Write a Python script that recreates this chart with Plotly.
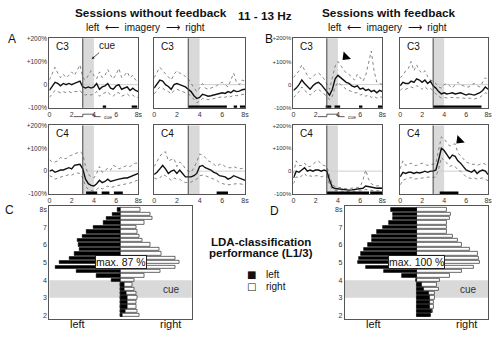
import plotly.graph_objects as go

# ---------------- DATA ----------------
TIME = [i * 0.25 for i in range(33)]          # 0 .. 8 s
CUE_START, CUE_END = 3.0, 4.0
X_TICKS = [0, 2, 4, 6, 8]
X_TICK_TEXT = ["0", "2", "4", "6", "8s"]
Y_TICKS = [-100, 0, 100, 200]
Y_TICK_TEXT = ["-100%", "0", "+100%", "+200%"]

# Sessions without feedback, left imagery, C3
A_L_C3_mean = [-25,-5,10,5,-5,5,0,5,0,5,10,15,-10,-15,-10,-15,-10,5,-20,-10,-5,5,-15,-20,-5,0,-20,-15,-10,-25,-15,-25,-30]
A_L_C3_up   = [20,50,75,50,30,45,30,40,55,40,60,85,30,20,40,60,40,25,55,30,40,65,40,25,45,70,30,40,55,30,40,20,15]
A_L_C3_lo   = [-55,-40,-25,-30,-35,-30,-35,-30,-35,-30,-30,-25,-40,-45,-40,-45,-40,-30,-50,-40,-35,-30,-45,-50,-35,-35,-50,-45,-40,-50,-45,-55,-55]
# without feedback, right imagery, C3
A_R_C3_mean = [-15,0,20,15,0,-8,-20,0,5,0,-5,-10,-20,-30,-48,-60,-55,-42,-45,-50,-48,-45,-42,-40,-35,-38,-30,-35,-25,-30,-28,-22,-20]
A_R_C3_up   = [30,55,75,60,45,35,20,45,60,50,45,35,25,5,-10,-30,-15,5,-15,-20,-15,-10,-5,5,10,0,-10,20,50,10,0,20,15]
A_R_C3_lo   = [-40,-25,-10,-15,-25,-30,-40,-25,-20,-25,-30,-35,-40,-50,-65,-78,-72,-60,-62,-65,-63,-60,-58,-57,-52,-55,-48,-52,-45,-48,-45,-42,-40]
# without feedback, left imagery, C4
A_L_C4_mean = [0,5,-5,0,5,5,10,15,10,25,28,30,10,-35,-55,-62,-65,-55,-40,-50,-45,-35,-45,-40,-38,-35,-32,-30,-30,-25,-20,-15,-10]
A_L_C4_up   = [50,40,40,45,60,55,55,65,70,75,80,85,75,20,-15,-25,-30,-10,20,-5,0,15,5,25,20,10,15,20,25,20,30,35,35]
A_L_C4_lo   = [-20,-25,-35,-30,-25,-22,-20,-15,-18,-10,-8,-10,-30,-65,-80,-85,-88,-80,-70,-78,-72,-65,-72,-68,-65,-62,-60,-58,-57,-52,-48,-42,-38]
# without feedback, right imagery, C4
A_R_C4_mean = [-15,-5,10,25,10,-10,0,5,-10,5,-10,-25,-25,-25,-20,-10,20,25,15,10,5,-5,-10,-20,-22,-25,-35,-30,-20,-25,-30,-35,-40]
A_R_C4_up   = [20,45,65,80,85,45,50,55,20,40,30,10,0,-5,15,40,75,70,60,45,40,30,20,30,30,20,15,15,20,15,10,12,15]
A_R_C4_lo   = [-30,-35,-30,-15,-20,-30,-40,-30,-35,-35,-45,-50,-50,-48,-40,-35,-20,-18,-20,-25,-30,-35,-40,-50,-55,-58,-60,-58,-55,-55,-55,-58,-60]
# Sessions with feedback, left imagery, C3
B_L_C3_mean = [-25,-15,0,20,5,-10,-20,-5,5,10,0,-15,-30,-45,-20,25,40,30,20,10,5,-5,-10,-5,-20,-15,-25,-20,-30,-25,-35,-25,-30]
B_L_C3_up   = [30,45,60,85,60,40,25,35,45,50,40,25,0,-20,30,80,100,80,65,50,45,30,20,45,30,15,40,100,145,60,10,5,0]
B_L_C3_lo   = [-55,-45,-30,-10,-25,-35,-45,-35,-25,-20,-30,-40,-50,-65,-50,-10,10,0,-10,-20,-25,-30,-35,-35,-45,-40,-50,-45,-55,-50,-58,-52,-55]
# with feedback, right imagery, C3
B_R_C3_mean = [-5,10,5,5,15,10,25,20,10,20,5,15,-5,-15,-30,-40,-35,-40,-38,-35,-40,-38,-35,-40,-45,-40,-42,-45,-40,-35,-25,-10,-20]
B_R_C3_up   = [30,40,60,70,100,60,85,60,50,60,35,20,15,5,-10,-15,0,5,-5,-15,0,10,0,-5,-10,-10,0,5,-5,-10,10,30,15]
B_R_C3_lo   = [-25,-15,-20,-15,-10,-15,-5,-10,-20,-10,-20,-15,-30,-40,-50,-58,-55,-58,-55,-55,-58,-55,-55,-58,-60,-58,-60,-62,-58,-55,-45,-35,-40]
# with feedback, left imagery, C4
B_L_C4_mean = [-30,0,-5,5,15,0,5,0,5,5,0,5,0,-40,-70,-76,-78,-80,-82,-83,-83,-82,-80,-80,-78,-75,-65,-68,-72,-74,-75,-74,-75]
B_L_C4_up   = [-10,45,25,25,35,20,20,30,40,45,30,25,20,-20,-60,-68,-70,-74,-76,-77,-76,-75,-73,-72,-68,-40,5,-35,-55,-62,-65,-63,-65]
B_L_C4_lo   = [-55,-25,-30,-20,-10,-25,-20,-25,-20,-20,-25,-20,-20,-60,-80,-85,-87,-88,-88,-89,-89,-88,-87,-87,-86,-84,-80,-82,-85,-86,-86,-86,-87]
# with feedback, right imagery, C4
B_R_C4_mean = [-25,-5,-10,-5,-5,-10,-5,-8,-5,0,-5,0,0,5,50,100,90,75,55,70,65,45,35,20,5,0,-5,5,-10,0,5,0,-15]
B_R_C4_up   = [10,45,25,30,35,25,25,30,35,30,25,30,30,35,100,150,140,125,110,115,120,80,65,55,40,35,30,30,25,30,35,30,20]
B_R_C4_lo   = [-60,-40,-35,-30,-28,-35,-35,-32,-30,-28,-28,-25,-28,-25,10,60,45,35,20,25,20,5,0,-15,-25,-30,-32,-30,-35,-32,-30,-35,-42]

# significant intervals (s)
SIG = {
    1: [(4.8, 5.1), (7.4, 7.9)],
    2: [(3.0, 6.4), (7.0, 7.3), (7.55, 8.0)],
    3: [(2.9, 3.4), (3.7, 4.2), (5.9, 6.2), (7.6, 8.0)],
    4: [(3.0, 7.4)],
    5: [(3.3, 4.3), (4.7, 5.4), (5.8, 6.6)],
    6: [(5.5, 6.5)],
    7: [(3.0, 6.8), (6.9, 8.0)],
    8: [(3.6, 5.3)],
}

# LDA classification performance (bar length, % of half width), 2 .. 8 s
LDA_TIME = [2 + i * 0.25 for i in range(25)]
C_left  = [-3,-7,-9,-9,-10,-8,-6,-6,13,34,62,92,86,72,65,58,59,60,54,48,38,24,20,11,4]
C_right = [26,24,22,22,24,22,19,17,19,33,56,77,83,77,58,54,42,31,26,24,22,34,45,42,28]
D_left  = [-20,-22,-19,-19,-19,-17,-10,-8,1,20,45,70,82,80,77,73,68,63,63,55,47,39,33,33,36]
D_right = [19,23,24,24,26,26,31,28,33,46,64,80,89,87,85,75,64,58,51,43,43,43,46,48,43]

# ---------------- FIGURE ----------------
W, H = 500, 339
def px(x): return x / W
def py(y): return 1 - y / H
def xn(i): return "x" if i == 1 else f"x{i}"
def yn(i): return "y" if i == 1 else f"y{i}"
def xk(i): return "xaxis" if i == 1 else f"xaxis{i}"
def yk(i): return "yaxis" if i == 1 else f"yaxis{i}"

cols = [(48, 138), (154, 246), (295, 385), (403, 492)]
rows = [(35, 106), (124, 194)]
panels = [
    (1, cols[0], rows[0], "C3", A_L_C3_mean, A_L_C3_up, A_L_C3_lo, True),
    (2, cols[1], rows[0], "C3", A_R_C3_mean, A_R_C3_up, A_R_C3_lo, False),
    (3, cols[2], rows[0], "C3", B_L_C3_mean, B_L_C3_up, B_L_C3_lo, True),
    (4, cols[3], rows[0], "C3", B_R_C3_mean, B_R_C3_up, B_R_C3_lo, False),
    (5, cols[0], rows[1], "C4", A_L_C4_mean, A_L_C4_up, A_L_C4_lo, True),
    (6, cols[1], rows[1], "C4", A_R_C4_mean, A_R_C4_up, A_R_C4_lo, False),
    (7, cols[2], rows[1], "C4", B_L_C4_mean, B_L_C4_up, B_L_C4_lo, True),
    (8, cols[3], rows[1], "C4", B_R_C4_mean, B_R_C4_up, B_R_C4_lo, False),
]

FONT = "Liberation Sans, Arial, sans-serif"
fig = go.Figure()
layout = dict(width=W, height=H, margin=dict(l=0, r=0, t=0, b=0),
              paper_bgcolor="white", plot_bgcolor="white",
              font=dict(family=FONT, color="#222"), showlegend=False)
shapes, annotations = [], []

for (i, (x0, x1), (y0, y1), lab, m, up, lo, ylab) in panels:
    xa, ya = xn(i), yn(i)
    layout[xk(i)] = dict(domain=[px(x0), px(x1)], anchor=ya, range=[0, 8],
                         tickvals=X_TICKS, ticktext=X_TICK_TEXT, ticks="", ticklen=0,
                         tickfont=dict(size=7, color="#333"), showgrid=False,
                         zeroline=False, showline=True, mirror=True,
                         linecolor="#555", linewidth=1)
    layout[yk(i)] = dict(domain=[py(y1), py(y0)], anchor=xa, range=[-100, 200],
                         tickvals=Y_TICKS, ticktext=Y_TICK_TEXT, ticks="", ticklen=0,
                         showticklabels=ylab,
                         tickfont=dict(size=6.5 if i in (1, 5) else 6, color="#333"),
                         showgrid=False, zeroline=False, showline=True, mirror=True,
                         linecolor="#555", linewidth=1)
    shapes.append(dict(type="rect", xref=xa, yref=f"{ya} domain", x0=CUE_START, x1=CUE_END,
                       y0=0, y1=1, fillcolor="#d9d9d9", line_width=0, layer="below"))
    shapes.append(dict(type="line", xref=xa, yref=ya, x0=CUE_START, x1=8, y0=0, y1=0,
                       line=dict(color="#cfcfcf", width=1), layer="below"))
    shapes.append(dict(type="line", xref=xa, yref=f"{ya} domain", x0=CUE_START, x1=CUE_START,
                       y0=0, y1=1, line=dict(color="#444", width=1)))
    for s in (up, lo):
        fig.add_trace(go.Scatter(x=TIME, y=s, xaxis=xa, yaxis=ya, mode="lines",
                                 line=dict(color="#777", width=0.9, dash="dot"),
                                 hoverinfo="skip"))
    fig.add_trace(go.Scatter(x=TIME, y=m, xaxis=xa, yaxis=ya, mode="lines",
                             line=dict(color="#111", width=1.4)))
    sx, sy = [], []
    for a, b in SIG[i]:
        sx += [a, b, None]; sy += [-95, -95, None]
    fig.add_trace(go.Scatter(x=sx, y=sy, xaxis=xa, yaxis=ya, mode="lines",
                             line=dict(color="black", width=2.5)))
    annotations.append(dict(xref=xa, yref=ya, x=0.4, y=163, text=lab, showarrow=False,
                            xanchor="left", yanchor="middle", font=dict(size=10, color="#111")))

# arrowheads
for i, (ax_t, ay_v) in {3: (4.7, 120), 8: (5.4, 135)}.items():
    fig.add_trace(go.Scatter(x=[ax_t], y=[ay_v], xaxis=xn(i), yaxis=yn(i), mode="markers",
                             marker=dict(symbol="triangle-down", angle=45, size=9, color="black")))

# cue arrow annotation in first panel
annotations.append(dict(xref="x", yref="y", x=3.8, y=110, ax=5.2, ay=168, axref="x", ayref="y",
                        text="cue", showarrow=True, arrowhead=2, arrowsize=0.7, arrowwidth=0.8,
                        arrowcolor="#222", font=dict(size=10, color="#222")))

# cue schematic below panels 1 and 3
for xa, yb, ytop in (("x", 115, 112.5), ("x3", 115, 112.5)):
    pts = [(2.2, yb), (CUE_START, yb), (CUE_START, ytop), (CUE_END, ytop), (CUE_END, yb), (4.6, yb)]
    for (ax0, ay0), (ax1, ay1) in zip(pts[:-1], pts[1:]):
        shapes.append(dict(type="line", xref=xa, yref="paper", x0=ax0, x1=ax1,
                           y0=py(ay0), y1=py(ay1), line=dict(color="#333", width=0.8)))
    annotations.append(dict(xref=xa, yref="paper", x=4.7, y=py(yb), text="cue", showarrow=False,
                            xanchor="left", yanchor="middle", font=dict(size=5, color="#333")))

# LDA panels
for i, (x0, x1), lv, rv, mx in ((9, (48, 192), C_left, C_right, "max. 87 %"),
                                 (10, (347, 492), D_left, D_right, "max. 100 %")):
    xa, ya = xn(i), yn(i)
    layout[xk(i)] = dict(domain=[px(x0), px(x1)], anchor=ya, range=[-100, 100],
                         showticklabels=False, ticks="", showgrid=False, zeroline=False,
                         showline=True, mirror=True, linecolor="#555", linewidth=1)
    layout[yk(i)] = dict(domain=[py(322), py(206)], anchor=xa, range=[1.78, 8.22],
                         tickvals=[2, 3, 4, 5, 6, 7, 8],
                         ticktext=["2", "3", "4", "5", "6", "7", "8s"], ticks="", ticklen=0,
                         tickfont=dict(size=7, color="#333"), showgrid=False,
                         zeroline=False, showline=True, mirror=True,
                         linecolor="#555", linewidth=1)
    shapes.append(dict(type="rect", xref=f"{xa} domain", yref=ya, x0=0, x1=1,
                       y0=CUE_START, y1=CUE_END, fillcolor="#d9d9d9", line_width=0, layer="below"))
    fig.add_trace(go.Bar(y=LDA_TIME, x=rv, orientation="h", xaxis=xa, yaxis=ya, width=0.19,
                         marker=dict(color="white", line=dict(color="#444", width=0.8)),
                         name="right"))
    fig.add_trace(go.Bar(y=LDA_TIME, x=[-v for v in lv], orientation="h", xaxis=xa, yaxis=ya,
                         width=0.19, marker=dict(color="black", line=dict(color="black", width=0.5)),
                         name="left"))
    annotations.append(dict(xref=xa, yref=ya, x=0, y=5.05, text=mx, showarrow=False,
                            bgcolor="white", bordercolor="#222", borderwidth=1, borderpad=0,
                            font=dict(size=10.5, color="#111")))
    annotations.append(dict(xref=xa, yref=ya, x=72, y=3.5, text="cue", showarrow=False,
                            font=dict(size=10, color="#333")))
    annotations.append(dict(xref=xa, yref="paper", x=-60, y=py(327), text="left", showarrow=False,
                            xanchor="center", yanchor="middle", font=dict(size=11, color="#111")))
    annotations.append(dict(xref=xa, yref="paper", x=70, y=py(327), text="right", showarrow=False,
                            xanchor="center", yanchor="middle", font=dict(size=11, color="#111")))

layout["barmode"] = "overlay"
layout["bargap"] = 0

def txt(x, y, s, size, bold=False, color="#111", anchor="center", family=FONT):
    annotations.append(dict(xref="paper", yref="paper", x=px(x), y=py(y),
                            text=f"<b>{s}</b>" if bold else s, showarrow=False,
                            xanchor=anchor, yanchor="middle",
                            font=dict(size=size, color=color, family=family)))

txt(151, 9, "Sessions without feedback", 11.8, True)
txt(392, 9, "Sessions with feedback", 11.8, True)
txt(266, 12, "11 - 13 Hz", 11.8, True)
txt(145, 24, "left  ⟵  imagery  ⟶  right", 10)
txt(390, 24, "left  ⟵  imagery  ⟶  right", 10)
txt(10, 36, "A", 12)
txt(270, 36, "B", 12)
txt(8, 210, "C", 12)
txt(276, 211, "D", 12)
txt(262, 243, "LDA-classification", 11.5, True)
txt(262, 254, "performance (L1/3)", 11.5, True)
# legend for LDA bars
txt(253, 276, "■", 10, family="DejaVu Sans")
txt(253, 288, "□", 10, family="DejaVu Sans")
txt(265, 276, "left", 10, anchor="left")
txt(265, 288, "right", 10, anchor="left")

layout["shapes"] = shapes
layout["annotations"] = annotations
fig.update_layout(**layout)
fig.write_html("out.html")
